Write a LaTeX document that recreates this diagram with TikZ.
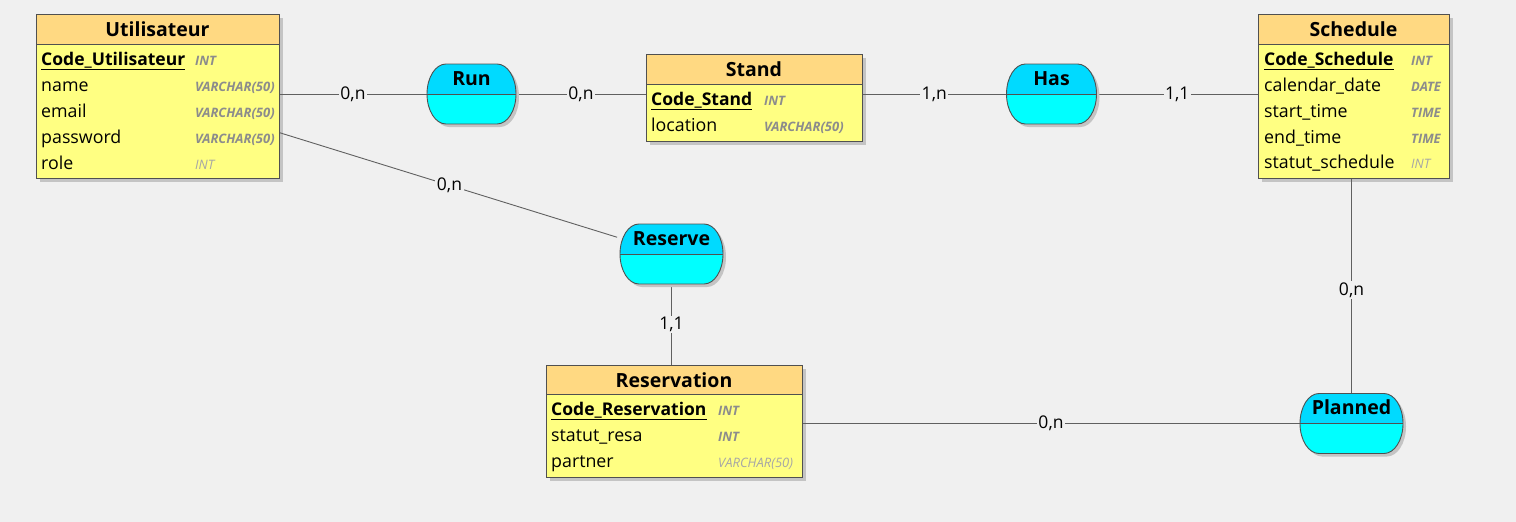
\documentclass[tikz,border=0pt]{standalone}
\usepackage{fontspec}
\setmainfont{Open Sans}
\usetikzlibrary{backgrounds}
\definecolor{bgc}{HTML}{F0F0F0}
\definecolor{headc}{HTML}{FFD982}
\definecolor{bodyc}{HTML}{FFFF82}
\definecolor{bordc}{HTML}{505050}
\definecolor{linkc}{HTML}{606060}
\definecolor{cyantop}{HTML}{00DAFF}
\definecolor{cyanbot}{HTML}{00FFFF}
\definecolor{typec}{HTML}{8C8C8C}
\definecolor{typelc}{HTML}{A6A6A6}
\definecolor{shadc}{HTML}{C4C4C4}

\tikzset{
 entbox/.style={anchor=north west, fill=bodyc, draw=bordc, line width=0.9pt, inner sep=0pt, outer sep=0pt},
 entline/.style={draw=bordc, line width=0.9pt},
 enttitle/.style={anchor=base, inner sep=0pt, font=\fontsize{19.5}{22}\selectfont\bfseries},
 attr/.style={anchor=base west, inner sep=0pt, font=\fontsize{17.8}{20}\selectfont},
 keyattr/.style={anchor=base west, inner sep=0pt, font=\fontsize{17.5}{20}\selectfont\bfseries},
 keyline/.style={draw=black, line width=0.8pt},
 typ/.style={anchor=base west, inner sep=0pt, text=typec, font=\fontsize{13}{15}\selectfont\bfseries\itshape},
 typl/.style={anchor=base west, inner sep=0pt, text=typelc, font=\fontsize{13}{15}\selectfont\itshape},
 assocbox/.style={rectangle, minimum height=60pt, inner sep=0pt, outer sep=0pt},
 assocline/.style={draw=bordc, line width=0.9pt},
 assoctext/.style={anchor=base, inner sep=0pt, font=\fontsize{19.5}{22}\selectfont\bfseries},
 link/.style={draw=linkc, line width=0.9pt},
 card/.style={fill=bgc, inner sep=1.5pt, font=\fontsize{17.5}{19}\selectfont},
}

% #1 name, #2 x1, #3 y1, #4 x2, #5 y2, #6 header bottom, #7 title
\newcommand\erentity[7]{%
  \begin{pgfonlayer}{background}
    \fill[shadc] ({#2+4},{#3+4}) rectangle ({#4+4},{#5+4});
  \end{pgfonlayer}
  \node[entbox, minimum width={#4-#2}, minimum height={#5-#3}] (#1) at (#2,#3) {};
  \fill[headc] (#2,#3) rectangle (#4,#6);
  \draw[entline] (#2,#6) -- (#4,#6);
  \draw[entline] (#2,#3) rectangle (#4,#5);
  \node[enttitle] (#1-title) at ({(#2+#4)/2},{#3+22.7}) {#7};
}
% #1 name, #2 x, #3 baseline, #4 text
\newcommand\erkey[4]{%
  \node[keyattr] (#1) at (#2,#3) {#4};
  \draw[keyline] ([yshift=-4pt]#1.base west) -- ([yshift=-4pt]#1.base east);
}
% #1 name, #2 cx, #3 cy, #4 width, #5 text
\newcommand\erassoc[5]{%
  \node[assocbox, minimum width={#4}] (#1) at (#2,#3) {};
  \pgfmathsetmacro\axa{#2-#4/2}%
  \pgfmathsetmacro\axb{#2+#4/2}%
  \pgfmathsetmacro\aya{#3-30}%
  \pgfmathsetmacro\ayb{#3+30}%
  \fill[shadc, shift={(3,3)}] ({\axa+19},\aya) -- ({\axb-19},\aya)
     .. controls ({\axb-8.5},\aya) and (\axb,{#3-16.6}) .. (\axb,#3)
     .. controls (\axb,{#3+16.6}) and ({\axb-8.5},\ayb) .. ({\axb-19},\ayb)
     -- ({\axa+19},\ayb)
     .. controls ({\axa+8.5},\ayb) and (\axa,{#3+16.6}) .. (\axa,#3)
     .. controls (\axa,{#3-16.6}) and ({\axa+8.5},\aya) .. ({\axa+19},\aya) -- cycle;
  \begin{scope}
    \clip ({\axa+19},\aya) -- ({\axb-19},\aya)
     .. controls ({\axb-8.5},\aya) and (\axb,{#3-16.6}) .. (\axb,#3)
     .. controls (\axb,{#3+16.6}) and ({\axb-8.5},\ayb) .. ({\axb-19},\ayb)
     -- ({\axa+19},\ayb)
     .. controls ({\axa+8.5},\ayb) and (\axa,{#3+16.6}) .. (\axa,#3)
     .. controls (\axa,{#3-16.6}) and ({\axa+8.5},\aya) .. ({\axa+19},\aya) -- cycle;
    \fill[cyanbot] (#1.north west) rectangle (#1.south east);
    \fill[cyantop] (#1.north west) rectangle (#1.east);
    \draw[assocline] (#1.west) -- (#1.east);
  \end{scope}
  \draw[assocline] ({\axa+19},\aya) -- ({\axb-19},\aya)
     .. controls ({\axb-8.5},\aya) and (\axb,{#3-16.6}) .. (\axb,#3)
     .. controls (\axb,{#3+16.6}) and ({\axb-8.5},\ayb) .. ({\axb-19},\ayb)
     -- ({\axa+19},\ayb)
     .. controls ({\axa+8.5},\ayb) and (\axa,{#3+16.6}) .. (\axa,#3)
     .. controls (\axa,{#3-16.6}) and ({\axa+8.5},\aya) .. ({\axa+19},\aya) -- cycle;
  \node[assoctext] (#1-lbl) at (#2,{#3-9}) {#5};
}

\begin{document}
\begin{tikzpicture}[x=1pt,y=-1pt]
\begin{pgfonlayer}{background}
\fill[bgc] (0,0) rectangle (1516,522);
\end{pgfonlayer}
\useasboundingbox (0,0) rectangle (1516,522);

% ---------- Utilisateur
\erentity{util}{36}{14}{279}{178}{44}{Utilisateur}
\erkey{util-k}{41}{65}{Code\_Utilisateur}
\node[typ] (util-t1) at (195,65) {INT};
\node[attr] (util-a2) at (41,91.5) {name};
\node[typ] (util-t2) at (195,91.5) {VARCHAR(50)};
\node[attr] (util-a3) at (41,117.5) {email};
\node[typ] (util-t3) at (195,117.5) {VARCHAR(50)};
\node[attr] (util-a4) at (41,143.5) {password};
\node[typ] (util-t4) at (195,143.5) {VARCHAR(50)};
\node[attr] (util-a5) at (41,169) {role};
\node[typl] (util-t5) at (195,169) {INT};

% ---------- Stand
\erentity{stand}{646}{54}{862}{141}{84}{Stand}
\erkey{stand-k}{651}{105}{Code\_Stand}
\node[typ] (stand-t1) at (764,105) {INT};
\node[attr] (stand-a2) at (651,131) {location};
\node[typ] (stand-t2) at (764,131) {VARCHAR(50)};

% ---------- Schedule
\erentity{sched}{1258}{14}{1449}{178}{44}{Schedule}
\erkey{sched-k}{1264}{65}{Code\_Schedule}
\node[typ] (sched-t1) at (1411,65) {INT};
\node[attr] (sched-a2) at (1264,91.5) {calendar\_date};
\node[typ] (sched-t2) at (1411,91.5) {DATE};
\node[attr] (sched-a3) at (1264,117.5) {start\_time};
\node[typ] (sched-t3) at (1411,117.5) {TIME};
\node[attr] (sched-a4) at (1264,143) {end\_time};
\node[typ] (sched-t4) at (1411,143) {TIME};
\node[attr] (sched-a5) at (1264,168.5) {statut\_schedule};
\node[typl] (sched-t5) at (1411,168.5) {INT};

% ---------- Reservation
\erentity{resa}{546}{365}{802}{477}{394}{Reservation}
\erkey{resa-k}{551}{415}{Code\_Reservation}
\node[typ] (resa-t1) at (718,415) {INT};
\node[attr] (resa-a2) at (551,441) {statut\_resa};
\node[typ] (resa-t2) at (718,441) {INT};
\node[attr] (resa-a3) at (551,467) {partner};
\node[typl] (resa-t3) at (718,467) {VARCHAR(50)};

% ---------- Associations
\erassoc{run}{471.5}{94}{89}{Run}
\erassoc{has}{1051.5}{94}{90}{Has}
\erassoc{reserve}{671.5}{254}{103}{Reserve}
\erassoc{planned}{1351.5}{423.5}{103}{Planned}

% ---------- Connectors
\begin{pgfonlayer}{background}
\draw[link] (util.east |- run.west) -- node[card] (c1) {0,n} (run.west);
\draw[link] (run.east) -- node[card] (c2) {0,n} (run.east -| stand.west);
\draw[link] (stand.east |- has.west) -- node[card] (c3) {1,n} (has.west);
\draw[link] (has.east) -- node[card] (c4) {1,1} (has.east -| sched.west);
\draw[link, shorten >=3pt] ([yshift=-36.5pt]util.east) -- node[card] (c5) {0,n} (reserve);
\draw[link] (reserve.south) -- node[card] (c6) {1,1} (reserve.south |- resa.north);
\draw[link] (planned.north |- sched.south) -- node[card, pos=0.52] (c7) {0,n} (planned.north);
\draw[link] (resa.east |- planned.west) -- node[card] (c8) {0,n} (planned.west);
\end{pgfonlayer}
\end{tikzpicture}
\end{document}
